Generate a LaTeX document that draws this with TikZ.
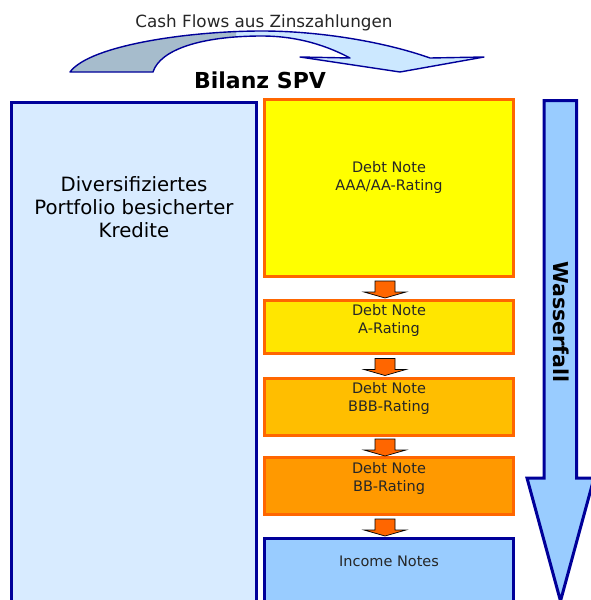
\documentclass[tikz,border=0pt]{standalone}
\usepackage{fontspec}
\setmainfont{DejaVu Sans}
\usepackage{tikz}
\usetikzlibrary{positioning,calc}

\definecolor{darkblue}{RGB}{0,0,153}
\definecolor{lightblue}{RGB}{153,204,255}
\definecolor{paleblue}{RGB}{216,235,255}
\definecolor{skyblue}{RGB}{204,232,255}
\definecolor{greyblue}{RGB}{166,188,204}
\definecolor{noteorange}{RGB}{255,102,0}
\definecolor{ratingaaa}{RGB}{255,255,0}
\definecolor{ratinga}{RGB}{255,230,0}
\definecolor{ratingbbb}{RGB}{255,190,0}
\definecolor{ratingbb}{RGB}{255,153,0}
\definecolor{textgrey}{RGB}{38,38,38}

\tikzset{
  notebox/.style={draw=noteorange, line width=3pt, minimum width=249pt},
  incomebox/.style={draw=darkblue, line width=3pt, fill=lightblue, minimum width=249pt},
  notetext/.style={align=center, inner sep=0pt, text=textgrey,
    font=\fontsize{14.5}{18}\selectfont},
  gaparrow/.pic={
    \filldraw[fill=noteorange, draw=black, line width=0.7pt]
      (-10,-7.5) -- (10,-7.5) -- (10,3.5) -- (21,3.5) -- (0,9.5)
      -- (-21,3.5) -- (-10,3.5) -- cycle;
  }
}

\newcommand{\cashflowpath}{(70,72) .. controls (90,45) and (190,31) .. (262,31)
  .. controls (320,31) and (385,42) .. (430,58) -- (484,57) -- (400,72)
  -- (300,57) -- (350,58) .. controls (320,42) and (290,36) .. (262,36)
  .. controls (200,36) and (160,50) .. (153,72) -- cycle}

\begin{document}
\begin{tikzpicture}[x=1pt,y=-1pt]
\useasboundingbox (0,0) rectangle (590,600);

%Cash flow arrow
\fill[skyblue] \cashflowpath;
\begin{scope}
\clip (0,0) rectangle (236,100);
\fill[greyblue] \cashflowpath;
\end{scope}
\draw[darkblue, line width=1.4pt, line join=round] \cashflowpath;

%Titles
\node[anchor=base, text=textgrey, font=\fontsize{16.8}{20}\selectfont]
    (cf)    at (264,27)     {Cash Flows aus Zinszahlungen};
\node[anchor=base, font=\fontsize{22}{26}\selectfont\bfseries]
    (spv)   at (260,88)     {Bilanz SPV};

%Assets
\node[draw=darkblue, line width=3pt, fill=paleblue, minimum width=245pt,
    minimum height=506pt, anchor=north west]
    (ptf)   at (10,101)     {};
\node[align=center, inner sep=0pt, font=\fontsize{19.7}{23}\selectfont]
    (ptf-txt)   [below=75pt of ptf.north]   {Diversifiziertes\\Portfolio besicherter\\Kredite};

%Notes
\node[notebox, fill=ratingaaa, minimum height=177pt]
    (aaa)   at (389,188)    {};
\node[notebox, fill=ratinga, minimum height=53pt]
    (a)     [below=21pt of aaa] {};
\node[notebox, fill=ratingbbb, minimum height=57pt]
    (bbb)   [below=22pt of a]   {};
\node[notebox, fill=ratingbb, minimum height=57pt]
    (bb)    [below=19pt of bbb] {};
\node[incomebox, minimum height=70pt]
    (inc)   [below=21pt of bb]  {};

\node[notetext] (aaa-txt)   [below=63pt of aaa.north]   {Debt Note\\AAA/AA-Rating};
\node[notetext] (a-txt)     [below=5pt of a.north]      {Debt Note\\A-Rating};
\node[notetext] (bbb-txt)   [below=5pt of bbb.north]    {Debt Note\\BBB-Rating};
\node[notetext] (bb-txt)    [below=6pt of bb.north]     {Debt Note\\BB-Rating};
\node[notetext] (inc-txt)   [below=19pt of inc.north]   {Income Notes};

%Arrows between notes
\foreach \up/\dn in {aaa/a, a/bbb, bbb/bb, bb/inc}
    \pic at ($(\up.south)!0.5!(\dn.north)+(-4,0)$) {gaparrow};

%Waterfall
\draw[darkblue, line width=3pt, fill=lightblue, line join=miter]
    (544,100.5) -- (576.5,100.5) -- (576.5,478) -- (594,478) -- (560.5,601)
    -- (527,478) -- (544,478) -- cycle;
\node[rotate=-90, font=\fontsize{20.5}{24}\selectfont\bfseries]
    (wf)    at (561,322)    {Wasserfall};
\end{tikzpicture}
\end{document}
